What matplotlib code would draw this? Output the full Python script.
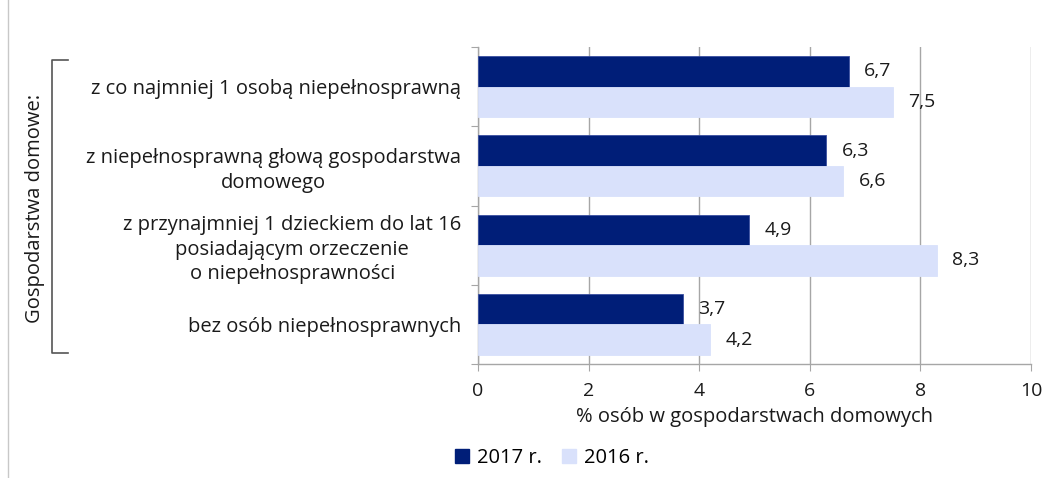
import numpy as np
import matplotlib.pyplot as plt
from matplotlib.lines import Line2D
from matplotlib.patches import Rectangle

plt.rcParams['font.family'] = ['Open Sans', 'DejaVu Sans']

categories = [
    'z co najmniej 1 osobą niepełnosprawną',
    'z niepełnosprawną głową gospodarstwa\ndomowego',
    'z przynajmniej 1 dzieckiem do lat 16\nposiadającym orzeczenie\no niepełnosprawności',
    'bez osób niepełnosprawnych',
]
vals_2017 = [6.7, 6.3, 4.9, 3.7]
vals_2016 = [7.5, 6.6, 8.3, 4.2]
series_names = ['2017 r.', '2016 r.']
xticks = [0, 2, 4, 6, 8, 10]

dark = '#001E78'
light = '#D9E1FB'
grey = '#A6A6A6'
txt = '#1A1A1A'
fs = 14.5

fig = plt.figure(figsize=(10.57, 4.78), dpi=100)
ax = fig.add_axes([478 / 1057, 1 - 364 / 478, (1031 - 478) / 1057, (364 - 47) / 478])

y = np.arange(len(categories))
h = 0.385
ax.barh(y - h / 2, vals_2017, height=h, color=dark, edgecolor='#3A4FA0', linewidth=0.6, zorder=3)
ax.barh(y + h / 2, vals_2016, height=h, color=light, edgecolor=light, linewidth=0.6, zorder=3)

for i in range(len(categories)):
    ax.text(vals_2017[i] + 0.28, y[i] - h / 2, f'{vals_2017[i]:.1f}'.replace('.', ','),
            va='center', ha='left', fontsize=14, color=txt)
    ax.text(vals_2016[i] + 0.28, y[i] + h / 2, f'{vals_2016[i]:.1f}'.replace('.', ','),
            va='center', ha='left', fontsize=14, color=txt)

ax.set_xlim(0, 10)
ax.set_ylim(len(categories) - 0.5, -0.5)
ax.set_xticks(xticks)
ax.set_xticklabels([str(t) for t in xticks], fontsize=14, color=txt)
ax.set_yticks(np.arange(-0.5, len(categories), 1.0))
ax.set_yticklabels([])
ax.set_yticks(y, minor=True)
ax.set_yticklabels(categories, minor=True, fontsize=fs, color=txt, ha='right',
                   multialignment='center', linespacing=1.3)
ax.tick_params(axis='y', which='minor', length=0, pad=12)
ax.tick_params(axis='y', which='major', length=5, color=grey)
ax.tick_params(axis='x', length=5, color=grey, pad=8)
ax.grid(axis='x', color=grey, linewidth=1, zorder=0)
for s in ['top', 'right']:
    ax.spines[s].set_visible(False)
for s in ['left', 'bottom']:
    ax.spines[s].set_color(grey)
    ax.spines[s].set_linewidth(1)
ax.set_xlabel('% osób w gospodarstwach domowych', fontsize=fs, color=txt, labelpad=5)

# bracket and group label
bx0, bx1 = 52 / 1057, 68 / 1057
by0, by1 = 1 - 353 / 478, 1 - 60 / 478
fig.add_artist(Line2D([bx1, bx0, bx0, bx1], [by1, by1, by0, by0], color='#555555', lw=1.2))
fig.text(35 / 1057, 1 - 208 / 478, 'Gospodarstwa domowe:', rotation=90, ha='center',
         va='center', fontsize=fs, color=txt)

# left frame line
fig.add_artist(Line2D([8 / 1057, 8 / 1057], [0, 1], color='#C8C8C8', lw=1))

# legend
handles = [Rectangle((0, 0), 1, 1, color=dark), Rectangle((0, 0), 1, 1, color=light)]
fig.legend(handles, series_names, loc='center', bbox_to_anchor=(552 / 1057, 1 - 458 / 478),
           ncol=2, frameon=False, fontsize=fs, handlelength=0.7, handleheight=0.7,
           handletextpad=0.4, columnspacing=1.0)

fig.savefig('out.png', dpi=100)
